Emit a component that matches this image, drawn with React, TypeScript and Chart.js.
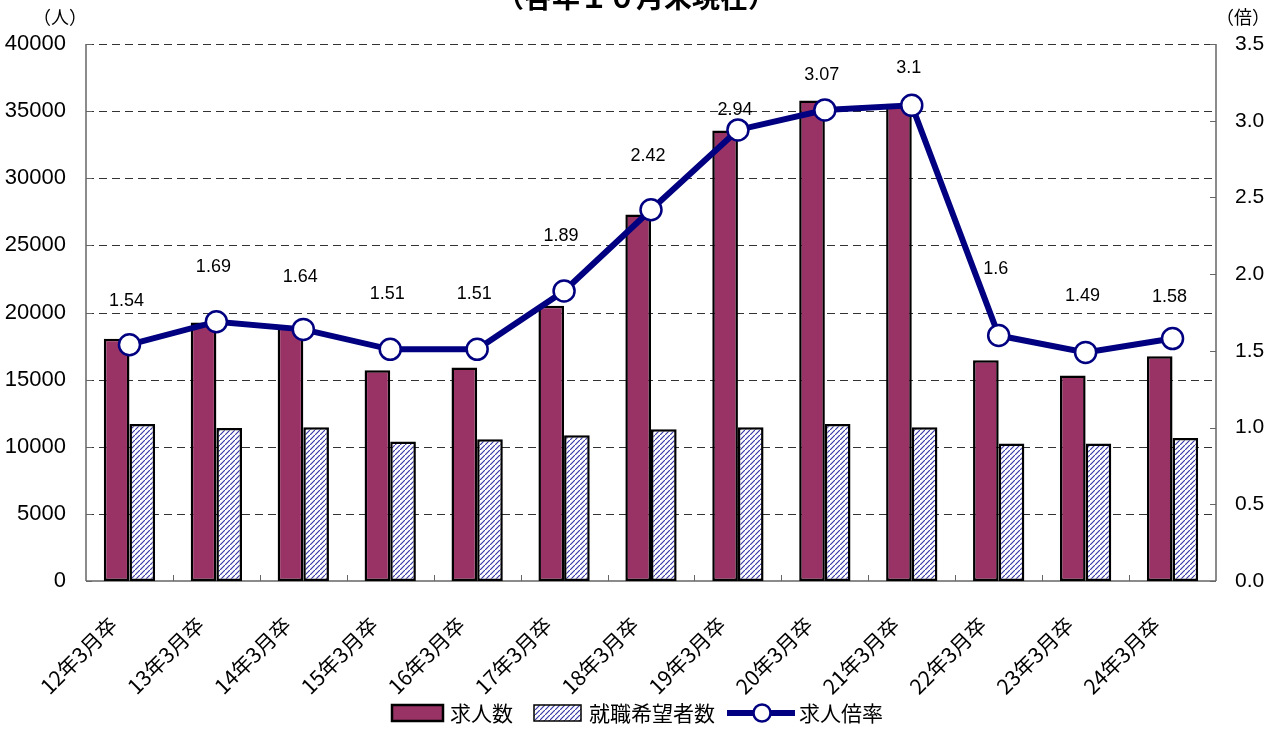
import React, { useEffect, useRef } from "react";
import { Chart, registerables } from "chart.js";

Chart.register(...registerables);

const categories = [
  "12年3月卒", "13年3月卒", "14年3月卒", "15年3月卒", "16年3月卒", "17年3月卒", "18年3月卒",
  "19年3月卒", "20年3月卒", "21年3月卒", "22年3月卒", "23年3月卒", "24年3月卒",
];
const jobOffers = [18050, 19250, 18900, 15700, 15900, 20500, 27300, 33550, 35800, 35550, 16450, 15300, 16750];
const jobSeekers = [11700, 11400, 11450, 10400, 10550, 10850, 11300, 11450, 11700, 11450, 10250, 10250, 10650];
const offerRatio = [1.54, 1.69, 1.64, 1.51, 1.51, 1.89, 2.42, 2.94, 3.07, 3.1, 1.6, 1.49, 1.58];
const ratioLabels = ["1.54", "1.69", "1.64", "1.51", "1.51", "1.89", "2.42", "2.94", "3.07", "3.1", "1.6", "1.49", "1.58"];
const seriesNames = ["求人数", "就職希望者数", "求人倍率"];
const titleText = "（各年１０月末現在）";
const leftUnit = "（人）";
const rightUnit = "（倍）";

// label lift above each ratio point (layout only)
const rateLabelLift = [44, 55, 52, 55, 55, 55, 54, 20, 35, 37, 66, 56, 42];

const OFFER_COLOR = "#993366";
const LINE_COLOR = "#000080";
const HATCH_COLOR = "#3838a8";
const NUM_FONT = "'Liberation Sans', Arial, sans-serif";
const JP_FONT = "'Noto Sans CJK JP', 'Noto Sans', sans-serif";

function makeHatch(): CanvasPattern | string {
  const n = 5;
  const c = document.createElement("canvas");
  c.width = n;
  c.height = n;
  const g = c.getContext("2d");
  if (!g) return "#fff";
  g.fillStyle = "#ffffff";
  g.fillRect(0, 0, n, n);
  g.strokeStyle = HATCH_COLOR;
  g.lineWidth = 1.2;
  g.beginPath();
  g.moveTo(-1, n + 1);
  g.lineTo(n + 1, -1);
  g.moveTo(-n - 1, 1);
  g.lineTo(1, -n - 1);
  g.moveTo(n - 1, 2 * n + 1);
  g.lineTo(2 * n + 1, n - 1);
  g.stroke();
  const p = g.createPattern(c, "repeat");
  return p || "#fff";
}

export default function App() {
  const ref = useRef<HTMLCanvasElement | null>(null);

  useEffect(() => {
    const canvas = ref.current;
    if (!canvas) return;
    const hatch = makeHatch();

    const decor = {
      id: "decor",
      beforeDatasetsDraw(chart: any) {
        const { ctx, chartArea } = chart;
        const { left, right, top, bottom } = chartArea;
        const y = chart.scales.y;
        const y2 = chart.scales.y2;
        const x = chart.scales.x;
        ctx.save();
        // dashed horizontal grid
        ctx.strokeStyle = "#333333";
        ctx.lineWidth = 1;
        ctx.setLineDash([8, 5]);
        ctx.beginPath();
        y.ticks.forEach((t: any) => {
          if (t.value === 0) return;
          const py = Math.round(y.getPixelForValue(t.value)) + 0.5;
          ctx.moveTo(left, py);
          ctx.lineTo(right, py);
        });
        ctx.stroke();
        // axes
        ctx.setLineDash([]);
        ctx.strokeStyle = "#666666";
        ctx.lineWidth = 1.5;
        ctx.beginPath();
        ctx.moveTo(left, top);
        ctx.lineTo(left, bottom);
        ctx.moveTo(right, top);
        ctx.lineTo(right, bottom);
        ctx.moveTo(left, bottom);
        ctx.lineTo(right, bottom);
        ctx.stroke();
        ctx.lineWidth = 1;
        ctx.beginPath();
        y.ticks.forEach((t: any) => {
          const py = Math.round(y.getPixelForValue(t.value)) + 0.5;
          ctx.moveTo(left, py);
          ctx.lineTo(left + 6, py);
        });
        y2.ticks.forEach((t: any) => {
          const py = Math.round(y2.getPixelForValue(t.value)) + 0.5;
          ctx.moveTo(right - 6, py);
          ctx.lineTo(right, py);
        });
        for (let i = 0; i < categories.length - 1; i++) {
          const px = Math.round((x.getPixelForTick(i) + x.getPixelForTick(i + 1)) / 2) + 0.5;
          ctx.moveTo(px, bottom);
          ctx.lineTo(px, bottom - 6);
        }
        ctx.stroke();
        ctx.restore();
      },
      afterDatasetsDraw(chart: any) {
        const { ctx } = chart;
        const meta = chart.getDatasetMeta(0);
        ctx.save();
        ctx.fillStyle = "#000";
        ctx.font = `18px ${NUM_FONT}`;
        ctx.textAlign = "center";
        ctx.textBaseline = "middle";
        meta.data.forEach((pt: any, i: number) => {
          ctx.fillText(ratioLabels[i], pt.x - 3, pt.y - rateLabelLift[i]);
        });
        ctx.restore();
      },
      afterDraw(chart: any) {
        const { ctx } = chart;
        ctx.save();
        // title (partially clipped at top)
        ctx.fillStyle = "#000";
        ctx.font = `bold 28px ${JP_FONT}`;
        ctx.textAlign = "center";
        ctx.textBaseline = "alphabetic";
        ctx.fillText(titleText, 636, 8);
        // units
        ctx.font = `18px ${JP_FONT}`;
        ctx.textBaseline = "middle";
        ctx.fillText(leftUnit, 60, 17);
        ctx.fillText(rightUnit, 1243, 17);
        // legend
        const ly = 713;
        ctx.font = `21px ${JP_FONT}`;
        ctx.textAlign = "left";
        ctx.lineWidth = 2.5;
        ctx.strokeStyle = "#000";
        ctx.fillStyle = OFFER_COLOR;
        ctx.fillRect(392, 705, 51, 16);
        ctx.strokeRect(392, 705, 51, 16);
        ctx.fillStyle = "#000";
        ctx.fillText(seriesNames[0], 450, ly);
        ctx.fillStyle = hatch as any;
        ctx.fillRect(534, 705, 47, 16);
        ctx.lineWidth = 1.5;
        ctx.strokeRect(534, 705, 47, 16);
        ctx.fillStyle = "#000";
        ctx.fillText(seriesNames[1], 589, ly);
        ctx.strokeStyle = LINE_COLOR;
        ctx.lineWidth = 6;
        ctx.beginPath();
        ctx.moveTo(727, ly);
        ctx.lineTo(795, ly);
        ctx.stroke();
        ctx.beginPath();
        ctx.arc(762, ly, 8.5, 0, Math.PI * 2);
        ctx.fillStyle = "#fff";
        ctx.fill();
        ctx.lineWidth = 2.5;
        ctx.stroke();
        ctx.fillStyle = "#000";
        ctx.fillText(seriesNames[2], 799, ly);
        ctx.restore();
      },
    };

    const chart = new Chart(canvas, {
      data: {
        labels: categories,
        datasets: [
          {
            type: "line",
            label: seriesNames[2],
            data: offerRatio,
            yAxisID: "y2",
            order: 0,
            borderColor: LINE_COLOR,
            borderWidth: 6,
            pointRadius: 10.5,
            pointBorderWidth: 2.5,
            pointBackgroundColor: "#ffffff",
            pointBorderColor: LINE_COLOR,
            tension: 0,
          },
          {
            type: "bar",
            label: seriesNames[0],
            data: jobOffers,
            yAxisID: "y",
            order: 1,
            backgroundColor: OFFER_COLOR,
            borderColor: "#000000",
            borderWidth: 2.5,
            borderSkipped: false,
            categoryPercentage: 0.59,
            barPercentage: 1,
          },
          {
            type: "bar",
            label: seriesNames[1],
            data: jobSeekers,
            yAxisID: "y",
            order: 1,
            backgroundColor: hatch as any,
            borderColor: "#000000",
            borderWidth: 2.5,
            borderSkipped: false,
            categoryPercentage: 0.59,
            barPercentage: 1,
          },
        ],
      } as any,
      options: {
        responsive: false,
        animation: false,
        layout: { padding: { top: 44, left: 0, right: 0, bottom: 0 } },
        plugins: {
          legend: { display: false },
          title: { display: false },
          tooltip: { enabled: false },
        },
        scales: {
          x: {
            type: "category",
            offset: true,
            grid: { display: false, drawTicks: false },
            border: { display: false },
            ticks: {
              autoSkip: false,
              minRotation: 45,
              maxRotation: 45,
              padding: 31,
              labelOffset: -16,
              color: "#000",
              font: { family: JP_FONT, size: 21 },
            },
            afterFit: (s: any) => {
              s.height = 155;
            },
          },
          y: {
            type: "linear",
            position: "left",
            min: 0,
            max: 40000,
            border: { display: false },
            grid: { display: false, drawTicks: false },
            ticks: {
              stepSize: 5000,
              padding: 20,
              color: "#000",
              font: { family: NUM_FONT, size: 22 },
              callback: (v: any) => String(v),
            },
            afterFit: (s: any) => {
              s.width = 86;
            },
          } as any,
          y2: {
            type: "linear",
            position: "right",
            min: 0,
            max: 3.5,
            border: { display: false },
            grid: { display: false, drawTicks: false },
            ticks: {
              stepSize: 0.5,
              padding: 19,
              color: "#000",
              font: { family: NUM_FONT, size: 21 },
              callback: (v: any) => Number(v).toFixed(1),
            },
            afterFit: (s: any) => {
              s.width = 57;
            },
          },
        },
      } as any,
      plugins: [decor],
    });

    return () => chart.destroy();
  }, []);

  return (
    <div style={{ position: "fixed", left: 0, top: 0, width: 1273, height: 736, background: "#fff" }}>
      <canvas ref={ref} width={1273} height={736} style={{ width: 1273, height: 736, display: "block" }} />
    </div>
  );
}
